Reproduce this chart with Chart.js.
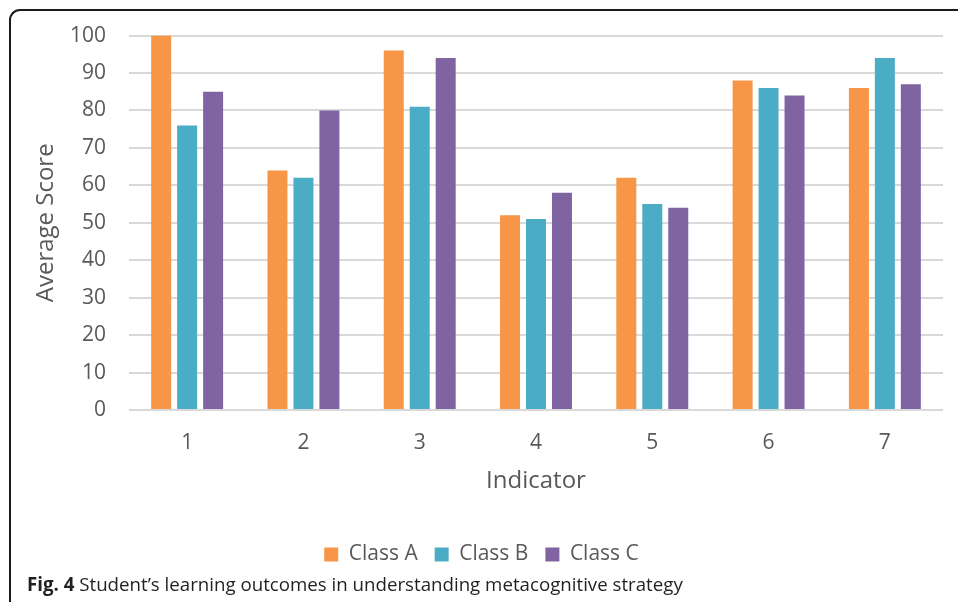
<!DOCTYPE html>
<html>
<head>
<meta charset="utf-8">
<script src="https://cdn.jsdelivr.net/npm/chart.js@4/dist/chart.umd.min.js"></script>
<style>
  html, body { margin: 0; padding: 0; background: #ffffff; }
  #page { position: relative; width: 958px; height: 602px; overflow: hidden; background: #fff; }
  #frame {
    position: absolute; left: 9px; top: 9px; width: 1200px; height: 800px;
    border-top: 2px solid #1b1b1b; border-left: 2px solid #1b1b1b;
    border-top-left-radius: 11px; box-sizing: border-box;
  }
  #wrap { position: absolute; left: 0; top: 0; width: 958px; height: 602px; }
  #caption {
    position: absolute; left: 27px; top: 571px; white-space: nowrap;
    font-family: 'Open Sans', sans-serif; font-size: 18.7px; color: #231f20;
  }
  #caption b { font-weight: 700; }
</style>
</head>
<body>
<div id="page">
  <div id="frame"></div>
  <div id="wrap"><canvas id="chart" width="958" height="602"></canvas></div>
  <div id="caption"><b>Fig. 4</b> Student’s learning outcomes in understanding metacognitive strategy</div>
</div>
<script>
// Indicators and average scores per class
const indicators = ['1', '2', '3', '4', '5', '6', '7'];
const classA = [100, 64, 96, 52, 62, 88, 86];
const classB = [76, 62, 81, 51, 55, 86, 94];
const classC = [85, 80, 94, 58, 54, 84, 87];
const seriesNames = ['Class A', 'Class B', 'Class C'];
const yTicks = [0, 10, 20, 30, 40, 50, 60, 70, 80, 90, 100];

const colors = ['#F79646', '#4BACC6', '#8064A2'];
const fontFamily = "'Open Sans', sans-serif";
const textColor = '#595959';

const datasets = [classA, classB, classC].map((vals, i) => ({
  label: seriesNames[i],
  data: vals,
  backgroundColor: colors[i],
  borderWidth: 0,
  categoryPercentage: 0.67,
  barPercentage: 0.77
}));

new Chart(document.getElementById('chart'), {
  type: 'bar',
  data: { labels: indicators, datasets },
  options: {
    responsive: false,
    animation: false,
    layout: { padding: { left: 20, top: 35, right: 15, bottom: 27 } },
    plugins: {
      legend: {
        position: 'bottom',
        labels: {
          boxWidth: 14, boxHeight: 14, padding: 17,
          color: textColor,
          font: { family: fontFamily, size: 21 }
        }
      },
      tooltip: { enabled: false }
    },
    scales: {
      x: {
        grid: { display: false, drawTicks: false },
        border: { display: false },
        ticks: { color: textColor, padding: 20, font: { family: fontFamily, size: 21 } },
        title: {
          display: true, text: 'Indicator', color: textColor,
          font: { family: fontFamily, size: 24 }, padding: { top: 0, bottom: 31 }
        },
        afterFit: (s) => { s.height = 117; }
      },
      y: {
        min: 0, max: 100,
        afterBuildTicks: (s) => { s.ticks = yTicks.map(v => ({ value: v })); },
        grid: { color: '#D9D9D9', lineWidth: 2, drawTicks: false },
        border: { display: false },
        ticks: { color: textColor, padding: 23, font: { family: fontFamily, size: 21 } },
        title: {
          display: true, text: 'Average Score', color: textColor,
          font: { family: fontFamily, size: 24 }, padding: { top: 12, bottom: 0 }
        },
        afterFit: (s) => { s.width = 109; }
      }
    }
  }
});
</script>
</body>
</html>
